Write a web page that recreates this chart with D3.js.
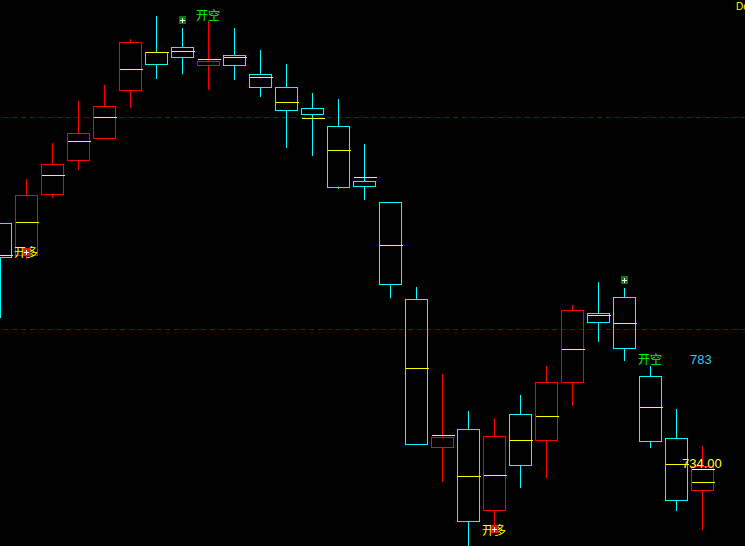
<!DOCTYPE html>
<html><head><meta charset="utf-8">
<style>html,body{margin:0;padding:0;background:#000;overflow:hidden}svg{display:block}</style>
<script src="https://cdn.jsdelivr.net/npm/d3@7"></script></head>
<body><svg id="c" width="745" height="546"></svg>
<script>
const dirs   = ["d","u","u","u","u","u","d","d","u","d","d","d","d","d","d","d","d","u","d","u","d","u","u","d","d","d","d","u"];
const tops   = [322.7,350.7,382,412.7,439.7,503.7,493.7,498.7,484.7,490.7,471.7,458.7,437.7,419.7,364.7,344,247,108.7,116.7,109.7,131.7,163.5,235.5,233,248.7,169.7,107.7,79.3];
const bottoms= [288.7,290.3,351.5,385.3,407.3,455.3,481.3,488.3,480.3,480.3,458.3,435.7,431.3,358.7,359.3,261.3,101.3,98.3,24.3,35.7,80.7,105.5,163.5,223.3,197.3,104.3,45.3,55.7];
const mids   = [290.7,323.7,370.7,404.7,428.7,476.7,493.7,494.7,486.7,488.7,468.7,443.7,427.7,395.7,368.7,300,177.5,110.7,69.7,70.7,105.7,129.5,196,231,222.7,138.7,81.7,63.7];
const highs  = [322.7,367,403,446,462,507.7,531,519,525,519,497,483,453.7,447.7,402.7,344,260,173,136,129,152,181,242,265,259,181,137.7,101];
const lows   = [228.3,288,348.3,377,407.3,438.3,468,472.3,456.3,466.3,449.3,398.3,390.3,357.3,346.3,249,101.3,64.3,0,14,58.3,69,141,205,186,98.3,35.3,17];
const barStep = [26];
const refLevels = [428.7,216.7];
const signals = [
  {i:1, kind:"buy", v:294},
  {i:7, kind:"sell", v:526},
  {i:19,kind:"buy", v:17},
  {i:24,kind:"sell", v:266}
];
const labelTexts = [
  {t:"开多", x:14, v:293, c:"#ffff00", f:"cjk"},
  {t:"开空", x:196, v:530, c:"#00ff00", f:"cjk"},
  {t:"开多", x:482, v:15, c:"#ffff00", f:"cjk"},
  {t:"开空", x:638, v:186, c:"#00ff00", f:"cjk"},
  {t:"783", x:690, v:186.5, c:"#22ccee", f:"num"},
  {t:"734.00", x:682, v:83, c:"#ffff33", f:"num"},
  {t:"De", x:736, v:540, c:"#ffff00", f:"small"}
];
const whiteLineValues = [{i:27, v:76.7}];

const W=745,H=546;
const svg=d3.select("#c");
svg.append("rect").attr("width",W).attr("height",H).attr("fill","#000");
const x=d3.scaleLinear().domain([0,1]).range([0,barStep[0]]);
const y=d3.scaleLinear().domain([0,546]).range([546,0]);
const py=v=>Math.round(y(v)-0.5)+0.5;
const px=i=>Math.round(x(i))+0.5;
const red="#ff0000",cyan="#00ffff",yel="#ffff00";

const g=svg.append("g").attr("shape-rendering","crispEdges");
g.selectAll("line.ref").data(refLevels).join("line").attr("class","ref")
 .attr("x1",3).attr("x2",W).attr("y1",py).attr("y2",py)
 .attr("stroke","#800000").attr("stroke-dasharray","5,4");

const idx=d3.range(dirs.length);
const col=i=>dirs[i]==="u"?red:cyan;
g.selectAll("line.hi").data(idx).join("line").attr("class","hi").attr("x1",px).attr("x2",px)
 .attr("y1",i=>py(highs[i])).attr("y2",i=>py(tops[i])).attr("stroke",col);
g.selectAll("line.lo").data(idx).join("line").attr("class","lo").attr("x1",px).attr("x2",px)
 .attr("y1",i=>py(bottoms[i])).attr("y2",i=>py(lows[i])).attr("stroke",col);
g.selectAll("rect.b").data(idx).join("rect").attr("class","b")
 .attr("x",i=>px(i)-11).attr("width",22)
 .attr("y",i=>py(tops[i])).attr("height",i=>py(bottoms[i])-py(tops[i]))
 .attr("fill","none").attr("stroke",col);
g.selectAll("line.m").data(idx).join("line").attr("class","m")
 .attr("x1",i=>px(i)-11).attr("x2",i=>px(i)+12)
 .attr("y1",i=>py(mids[i])).attr("y2",i=>py(mids[i])).attr("stroke",yel);
g.selectAll("line.w").data(whiteLineValues).join("line").attr("class","w")
 .attr("x1",d=>px(d.i)-11).attr("x2",d=>px(d.i)+12)
 .attr("y1",d=>py(d.v)).attr("y2",d=>py(d.v)).attr("stroke","#fff");

const cjk="'Noto Sans CJK SC','Noto Sans',sans-serif";
const num="'Liberation Sans',Arial,sans-serif";
svg.selectAll("text.e").data(labelTexts).join("text").attr("class","e")
 .attr("x",d=>d.x).attr("y",d=>y(d.v)).attr("dy","0.36em").attr("fill",d=>d.c)
 .attr("font-family",d=>d.f==="cjk"?cjk:num)
 .attr("font-size",d=>d.f==="cjk"?12:d.f==="small"?10:13).text(d=>d.t);
// signal icons on top of the labels
signals.forEach(s=>{
  const cx=x(s.i)+0.5, buy=s.kind==="buy", yy=y(s.v);
  const ic=svg.append("g").attr("shape-rendering","crispEdges");
  ic.append("rect").attr("x",cx-3.5).attr("y",yy-4).attr("width",7).attr("height",8).attr("fill",buy?"#ee1111":"#0a7a0a");
  ic.append("rect").attr("x",cx-2.5).attr("y",yy-0.5).attr("width",5).attr("height",1).attr("fill","#fff");
  ic.append("rect").attr("x",cx-0.5).attr("y",yy-2.5).attr("width",1).attr("height",5).attr("fill","#fff");
});
</script></body></html>
